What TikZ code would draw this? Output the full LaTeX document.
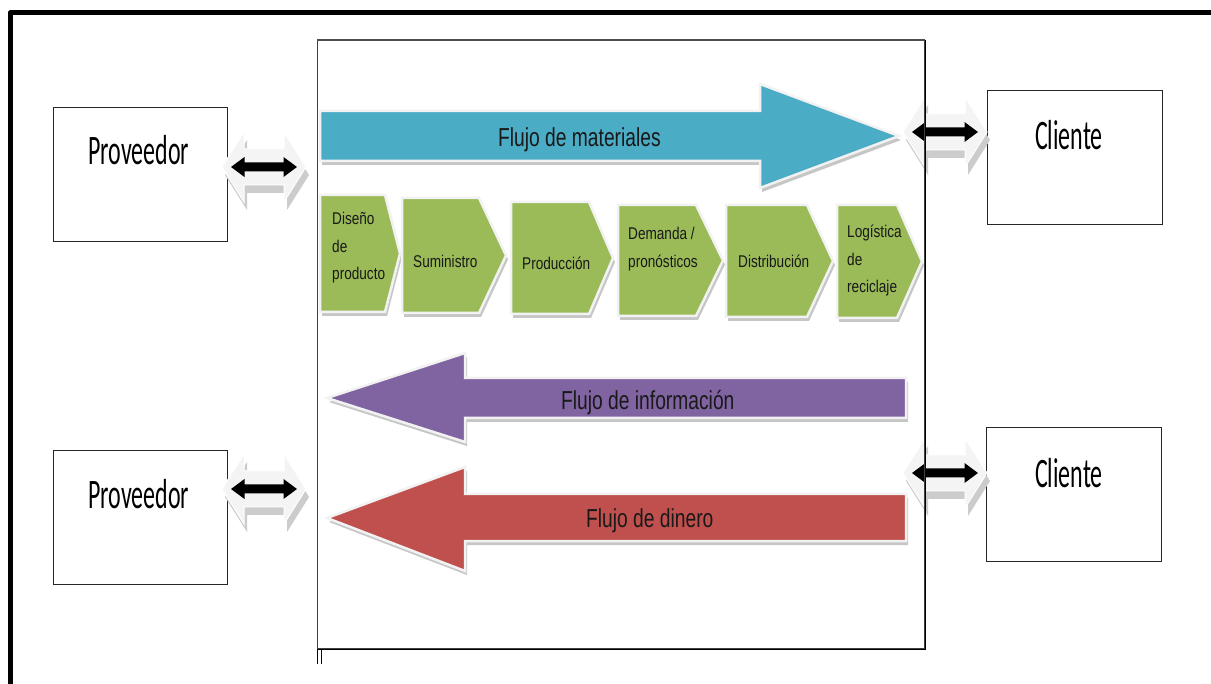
\documentclass[tikz,border=0pt]{standalone}
\usepackage{fontspec}
\usetikzlibrary{calc}
\setmainfont{Liberation Sans}
\newfontfamily\boxfont[FakeStretch=0.57]{Carlito}
\newfontfamily\flowfont[FakeStretch=0.74]{Liberation Sans}
\newfontfamily\stagefont[FakeStretch=0.8]{Liberation Sans}
\definecolor{materialblue}{HTML}{4BACC6}
\definecolor{infopurple}{HTML}{8064A2}
\definecolor{moneyred}{HTML}{C0504D}
\definecolor{stagegreen}{HTML}{9BBB59}

% block shape with a soft light rim and a grey drop shadow
\newcommand\blockarrow[2]{%
  \fill[gray!45, shift={(2,4)}] #2;
  \filldraw[fill=#1, draw=gray!10, line width=2.5pt, line join=miter] #2;
}

% two-way exchange symbol: light grey double arrow carrying a black one
\newcommand\exchange[2]{%
  \begin{scope}[shift={(#1,#2)}]
    \fill[gray!40, shift={(3,8)}]
      (-42,0) -- (-20,-35) -- (-20,-18) -- (20,-18) -- (20,-35) -- (42,0)
      -- (20,35) -- (20,18) -- (-20,18) -- (-20,35) -- cycle;
    \filldraw[fill=gray!9, draw=white, line width=1pt]
      (-42,0) -- (-20,-35) -- (-20,-18) -- (20,-18) -- (20,-35) -- (42,0)
      -- (20,35) -- (20,18) -- (-20,18) -- (-20,35) -- cycle;
    \fill[black]
      (-33,0) -- (-19.5,-10) -- (-19.5,-4.5) -- (19.5,-4.5) -- (19.5,-10) -- (33,0)
      -- (19.5,10) -- (19.5,4.5) -- (-19.5,4.5) -- (-19.5,10) -- cycle;
  \end{scope}}

\begin{document}
\begin{tikzpicture}[x=1pt, y=-1pt,
  partybox/.style={draw=black!85, line width=1.1pt, fill=white, inner sep=0,
    anchor=north west, minimum width=174pt, minimum height=134pt},
  partytext/.style={font=\boxfont\fontsize{42}{48}\selectfont, anchor=base west, inner sep=0},
  flowtext/.style={font=\flowfont\fontsize{26}{30}\selectfont, text=black!90, anchor=base west, inner sep=0},
  stagetext/.style={font=\stagefont\fontsize{17}{27.5}\selectfont, text=black!90,
    align=left, anchor=north west, inner sep=0}]

\useasboundingbox (0,0) rectangle (1211,684);
\fill[white] (0,0) rectangle (1211,684);

% outer frame
\draw[line width=5pt, line join=round] (1211,13) -- (10,13) -- (10,684);

% suppliers and customers
\node[partybox] (prov1) at (53,107) {};
\node[partybox] (prov2) at (53,450) {};
\node[partybox, minimum width=175pt] (cli1) at (987,90) {};
\node[partybox, minimum width=175pt] (cli2) at (986,427) {};
\node[partytext] (prov1t) at (88,165) {Proveedor};
\node[partytext] (prov2t) at (88,508) {Proveedor};
\node[partytext] (cli1t) at (1035,150) {Cliente};
\node[partytext] (cli2t) at (1035,488) {Cliente};

% exchanges with the chain
\exchange{264}{167}
\exchange{264}{489}
\exchange{945}{132}
\exchange{945}{473}

% material flow
\blockarrow{materialblue}{(320,111) -- (760,111) -- (760,84) -- (899,136)
  -- (760,188) -- (760,161) -- (320,161) -- cycle}
\node[flowtext] (matl) at (498,147) {Flujo de materiales};

% chain stages
\blockarrow{stagegreen}{(320,195) -- (385,195) -- (400,253.5) -- (385,312) -- (320,312) -- cycle}
\blockarrow{stagegreen}{(402,198) -- (479,198) -- (506,255.5) -- (479,313) -- (402,313) -- cycle}
\blockarrow{stagegreen}{(511,202) -- (589,202) -- (613,258) -- (589,314) -- (511,314) -- cycle}
\blockarrow{stagegreen}{(618,205) -- (696,205) -- (723,260.5) -- (696,316) -- (618,316) -- cycle}
\blockarrow{stagegreen}{(726,205) -- (807,205) -- (833,261) -- (807,317) -- (726,317) -- cycle}
\blockarrow{stagegreen}{(837,205) -- (897,205) -- (922,261.5) -- (897,318) -- (837,318) -- cycle}
\node[stagetext] (s1) at (332,212) {Diseño\\de\\producto};
\node[stagetext] (s2) at (413,255) {Suministro};
\node[stagetext] (s3) at (522,257) {Producción};
\node[stagetext] (s4) at (628,227) {Demanda /\\pronósticos};
\node[stagetext] (s5) at (738,255) {Distribución};
\node[stagetext] (s6) at (847,225) {Logística\\de\\reciclaje};

% information flow
\blockarrow{infopurple}{(906,378) -- (465,378) -- (465,353) -- (327,398)
  -- (465,442) -- (465,418) -- (906,418) -- cycle}
\node[flowtext] (info) at (561,410) {Flujo de información};

% money flow
\blockarrow{moneyred}{(906,494) -- (465,494) -- (465,467) -- (327,518)
  -- (465,571) -- (465,541) -- (906,541) -- cycle}
\node[flowtext] (money) at (586,528) {Flujo de dinero};

% the chain itself
\node[draw=black!75, line width=1pt, inner sep=0, anchor=north west,
  minimum width=607pt, minimum height=608pt] (chain) at (317,40) {};
\draw[black!70, line width=2.5pt] (chain.north west) -- (chain.north east);
\draw[black, line width=1pt] (chain.north east) -- (chain.south east) -- (chain.south west);
\draw[black!80!blue, line width=0.8pt] (chain.south west) -- ++(0,15);
\draw[black!80!blue, line width=0.8pt] ($(chain.south west)+(4,0)$) -- ++(0,15);

\end{tikzpicture}
\end{document}
